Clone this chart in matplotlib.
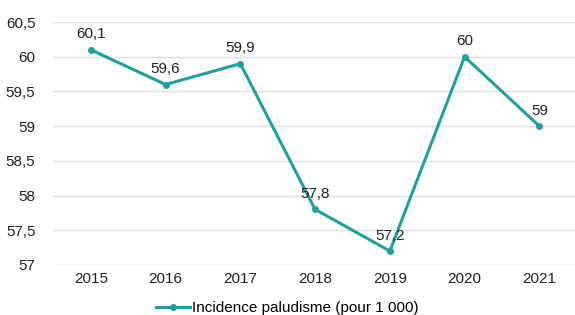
import matplotlib
matplotlib.use("Agg")
import matplotlib.pyplot as plt

plt.rcParams['font.family'] = ['Liberation Sans', 'DejaVu Sans']

years = ["2015", "2016", "2017", "2018", "2019", "2020", "2021"]
incidence = [60.1, 59.6, 59.9, 57.8, 57.2, 60.0, 59.0]
yticks = [57, 57.5, 58, 58.5, 59, 59.5, 60, 60.5]

color = "#1fa0a0"

def fr(v):
    s = ("%g" % v).replace(".", ",")
    return s

fig = plt.figure(figsize=(5.75, 3.15), dpi=100)
ax = fig.add_axes([0.093, 0.159, 0.91, 0.771])
x = list(range(len(years)))
ax.plot(x, incidence, color=color, lw=2.2, marker="o", ms=4,
        label="Incidence paludisme (pour 1 000)")
for xi, v in zip(x, incidence):
    ax.annotate(fr(v), (xi, v), xytext=(0, 6), textcoords="offset points",
                ha="center", va="bottom", fontsize=11, color="#222222")

ax.set_xlim(-0.5, 6.5)
ax.set_ylim(57, 60.5)
ax.set_yticks(yticks)
ax.set_yticklabels([fr(t) for t in yticks])
ax.set_xticks(x)
ax.set_xticklabels(years)
ax.tick_params(length=0, labelsize=11, colors="#222222")
ax.tick_params(axis="y", pad=13)
ax.tick_params(axis="x", pad=5)
ax.grid(axis="y", color="#e0e0e0", lw=1)
ax.set_axisbelow(True)
for s in ax.spines.values():
    s.set_visible(False)

fig.legend(loc="lower center", bbox_to_anchor=(0.5, -0.045), frameon=False,
           fontsize=11, handlelength=2.2, handletextpad=0.15)

fig.savefig("out.png", dpi=100)
